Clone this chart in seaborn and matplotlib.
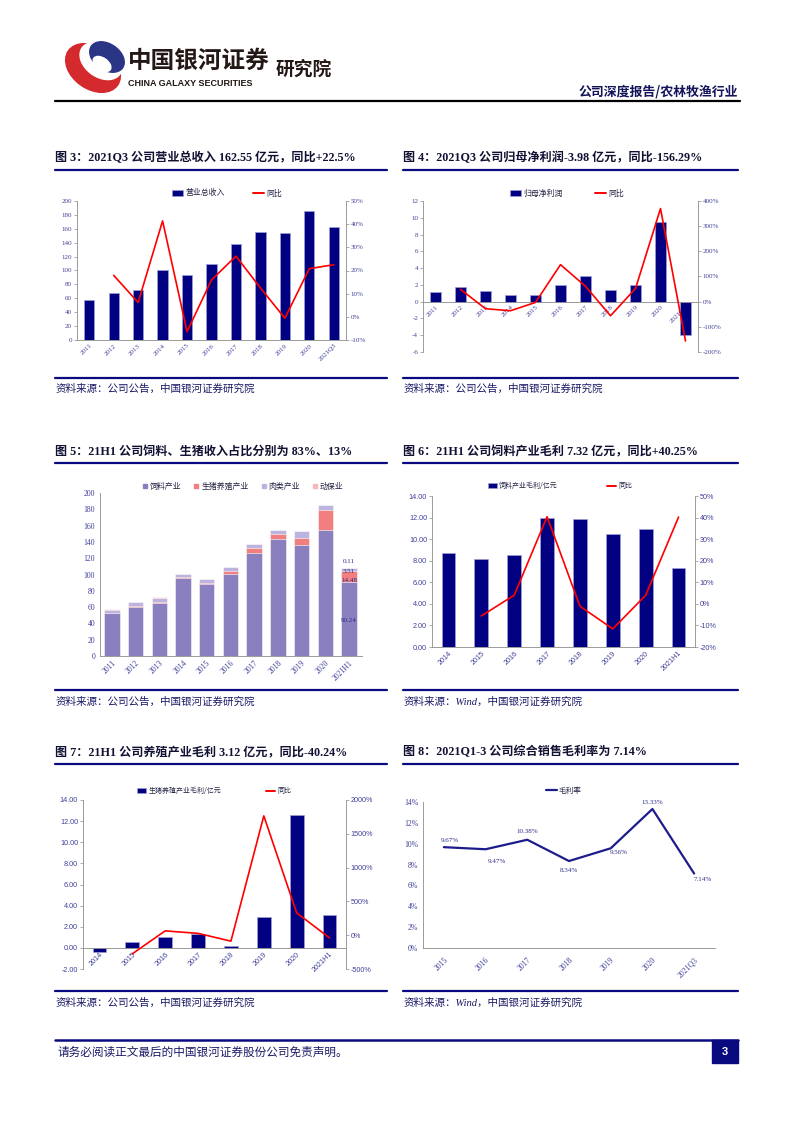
import numpy as np
import pandas as pd
import seaborn as sns
import matplotlib.pyplot as plt
import matplotlib.patches as mpatches
from matplotlib.lines import Line2D
from matplotlib.ticker import FuncFormatter

sns.set_style('white')
plt.rcParams['font.family'] = ['Liberation Serif', 'Noto Sans CJK SC']
plt.rcParams['axes.unicode_minus'] = False

W, H = 793, 1122
NAVY = '#000080'
RED = '#ff0000'
TICKC = '#40409a'
SPINE = '#8c8c8c'
SERIF = ['Liberation Serif', 'Noto Sans CJK SC']
SANS = ['Liberation Sans', 'Noto Sans CJK SC']
CJK = ['Noto Sans CJK SC', 'DejaVu Sans']

# fig 3: revenue (亿元) and yoy (%)
years3 = ['2011', '2012', '2013', '2014', '2015', '2016', '2017', '2018', '2019', '2020', '2021Q3']
revenue = [57.3, 67.3, 71.6, 100.7, 94.0, 108.8, 137.5, 154.7, 153.7, 185.2, 162.55]
revenue_yoy = [np.nan, 17.9, 6.2, 41.4, -6.4, 15.9, 26.2, 12.5, -0.6, 20.8, 22.5]

# fig 4: net profit attributable
profit = [1.19, 1.79, 1.27, 0.83, 0.83, 2.03, 3.10, 1.35, 2.03, 9.54, -3.98]
profit_yoy = [np.nan, 49, -28, -36, -3, 147, 61, -56, 52, 370, -156.29]

# fig 5: revenue split
years5 = ['2011', '2012', '2013', '2014', '2015', '2016', '2017', '2018', '2019', '2020', '2021H1']
feed = [52.3, 60.1, 65.0, 95.7, 88.8, 100.6, 126.0, 143.1, 135.8, 154.2, 90.24]
pig = [0.6, 0.8, 1.3, 0.8, 1.2, 3.3, 6.0, 6.2, 8.6, 24.5, 14.48]
meat = [4.1, 5.5, 5.4, 3.8, 4.6, 5.0, 5.4, 5.0, 9.1, 6.5, 3.51]
health = [0.3, 0.3, 0.3, 0.3, 0.3, 0.3, 0.4, 0.3, 0.3, 0.5, 0.11]

# fig 6 / fig 7: gross profit
years6 = ['2014', '2015', '2016', '2017', '2018', '2019', '2020', '2021H1']
feed_gp = [8.7, 8.2, 8.5, 12.0, 11.85, 10.5, 10.9, 7.32]
feed_gp_yoy = [np.nan, -5.6, 4.0, 40.4, -1.1, -11.6, 4.0, 40.25]
pig_gp = [-0.35, 0.6, 1.0, 1.32, 0.17, 2.93, 12.55, 3.12]
pig_gp_yoy = [np.nan, -275, 64, 27, -88, 1765, 330, -40.24]

# fig 8: gross margin
years8 = ['2015', '2016', '2017', '2018', '2019', '2020', '2021Q3']
margin = [9.67, 9.47, 10.38, 8.34, 9.56, 13.33, 7.14]

fig = plt.figure(figsize=(W / 100, H / 100), dpi=100)
bg = fig.add_axes([0, 0, 1, 1])
bg.set_xlim(0, W)
bg.set_ylim(H, 0)
bg.axis('off')


def add_ax(l, t, r, b):
    ax = fig.add_axes([l / W, 1 - b / H, (r - l) / W, (b - t) / H])
    ax.patch.set_alpha(0)
    return ax


def finish(ax, fam, size):
    ax.tick_params(axis='both', labelsize=size, labelcolor=TICKC, color=SPINE,
                   width=0.5, length=2, pad=1.5)
    ax.tick_params(axis='x', length=0, pad=2)
    for t in ax.get_xticklabels() + ax.get_yticklabels():
        t.set_fontfamily(fam)
    for s in ax.spines.values():
        s.set_color(SPINE)
        s.set_linewidth(0.6)
    ax.set_xlabel('')
    ax.set_ylabel('')


def legend(ax, handles, labels, cx, cy, spacing, size, hl=1.4):
    ax.legend(handles, labels, ncol=len(handles), loc='center',
              bbox_to_anchor=(cx / W, 1 - cy / H), bbox_transform=fig.transFigure,
              frameon=False, prop={'family': CJK, 'size': size}, columnspacing=spacing,
              handlelength=hl, handletextpad=0.3, borderpad=0, labelcolor='#222244')


def bar_line(box, cats, vals, yoy, ylim, ystep, y2lim, y2step, lfmt, fam, size,
             zero_axis=False):
    ax = add_ax(*box)
    df = pd.DataFrame({'cat': cats, 'val': vals})
    sns.barplot(data=df, x='cat', y='val', ax=ax, color=NAVY, saturation=1,
                width=0.42, edgecolor='#a0a0d8', linewidth=0.5)
    ax2 = ax.twinx()
    sns.lineplot(x=np.arange(len(cats)), y=yoy, ax=ax2, color=RED, linewidth=1.2)
    if zero_axis:
        ax.spines['bottom'].set_position(('data', 0))
    ax.set_xlim(-0.5, len(cats) - 0.5)
    ax.set_ylim(*ylim)
    ax.set_yticks(np.arange(ylim[0], ylim[1] + ystep / 2, ystep))
    ax2.set_ylim(*y2lim)
    ax2.set_yticks(np.arange(y2lim[0], y2lim[1] + y2step / 2, y2step))
    ax.yaxis.set_major_formatter(FuncFormatter(lambda v, p: lfmt % v))
    ax2.yaxis.set_major_formatter(FuncFormatter(lambda v, p: f'{v:.0f}%'))
    ax.set_xticks(range(len(cats)))
    ax.set_xticklabels(cats, rotation=45, ha='right', rotation_mode='anchor')
    for a in (ax, ax2):
        finish(a, fam, size)
        a.spines['top'].set_visible(False)
    ax2.spines['bottom'].set_visible(False)
    ax2.spines['left'].set_visible(False)
    ax.spines['right'].set_visible(False)
    return ax, ax2


bar_h = mpatches.Patch(facecolor=NAVY, edgecolor='#a0a0d8', linewidth=0.4)
line_h = Line2D([], [], color=RED, lw=1.4)

# ---- figure 3
ax3, ax3b = bar_line((77, 201, 346, 340), years3, revenue, revenue_yoy, (0, 200), 20,
                     (-10, 50), 10, '%d', SERIF, 5.0)
legend(ax3b, [bar_h, line_h], ['营业总收入', '同比'], 227, 193, 3.6, 5.7)

# ---- figure 4
ax4, ax4b = bar_line((423, 201, 698, 352), years3, profit, profit_yoy, (-6, 12), 2,
                     (-200, 400), 100, '%d', SERIF, 5.0, zero_axis=True)
legend(ax4b, [bar_h, line_h], ['归母净利润', '同比'], 567, 193, 4.0, 5.7)

# ---- figure 5 (stacked via cumulative bars)
ax5 = add_ax(100, 493, 362, 656)
df5 = pd.DataFrame({'year': years5, 'feed': feed, 'pig': pig, 'meat': meat, 'health': health})
cum = df5[['feed', 'pig', 'meat', 'health']].cumsum(axis=1)
C5 = {'feed': '#8a80bf', 'pig': '#f27f7f', 'meat': '#bab4de', 'health': '#f9b8b8'}
for col in ['health', 'meat', 'pig', 'feed']:
    sns.barplot(x=df5['year'], y=cum[col], ax=ax5, color=C5[col], saturation=1,
                width=0.65, edgecolor='white', linewidth=0.4)
ax5.set_xlim(-0.5, len(years5) - 0.45)
ax5.set_ylim(0, 200)
ax5.set_yticks(np.arange(0, 201, 20))
ax5.set_xticks(range(len(years5)))
ax5.set_xticklabels(years5, rotation=45, ha='right', rotation_mode='anchor')
finish(ax5, SERIF, 5.6)
ax5.spines['top'].set_visible(False)
ax5.spines['right'].set_visible(False)
i = len(years5) - 1
lab_kw = dict(ha='center', va='center', fontsize=5.0, color='#2a2a8a', family=SERIF)
ax5.text(i, cum['feed'][i] / 2 - 2, f'{feed[i]:.2f}', **lab_kw)
ax5.text(i, cum['feed'][i] + 3, f'{pig[i]:.2f}', **lab_kw)
ax5.text(i, cum['pig'][i] - 0.5, f'{meat[i]:.2f}', **lab_kw)
ax5.text(i, cum['health'][i] + 7, f'{health[i]:.2f}', **lab_kw)
h5 = [Line2D([], [], ls='', marker='s', ms=3.2, color=C5[c]) for c in ['feed', 'pig', 'meat', 'health']]
legend(ax5, h5, ['饲料产业', '生猪养殖产业', '肉类产业', '动保业'], 243, 486, 1.6, 5.7, hl=0.6)

# ---- figure 6
ax6, ax6b = bar_line((432, 496, 695, 647), years6, feed_gp, feed_gp_yoy, (0, 14), 2,
                     (-20, 50), 10, '%.2f', SANS, 5.2)
legend(ax6b, [bar_h, line_h], ['饲料产业毛利/亿元', '同比'], 560, 486, 7.0, 5.0)

# ---- figure 7
ax7, ax7b = bar_line((83, 800, 346, 969), years6, pig_gp, pig_gp_yoy, (-2, 14), 2,
                     (-500, 2000), 500, '%.2f', SANS, 5.2, zero_axis=True)
legend(ax7b, [bar_h, line_h], ['生猪养殖产业毛利/亿元', '同比'], 214, 791, 6.4, 5.0)

# ---- figure 8
ax8 = add_ax(423, 802, 715, 948)
sns.lineplot(x=np.arange(len(years8)), y=margin, ax=ax8, color='#1c1c8c', linewidth=1.6)
ax8.set_xlim(-0.5, len(years8) - 0.5)
ax8.set_ylim(0, 14)
ax8.set_yticks(np.arange(0, 15, 2))
ax8.yaxis.set_major_formatter(FuncFormatter(lambda v, p: f'{v:.0f}%'))
ax8.set_xticks(range(len(years8)))
ax8.set_xticklabels(years8, rotation=45, ha='right', rotation_mode='anchor')
ax8.set_xticks(np.arange(-0.5, len(years8)), minor=True)
finish(ax8, SERIF, 5.6)
ax8.tick_params(axis='x', which='minor', length=3, color=SPINE, width=0.5)
ax8.tick_params(axis='x', which='major', pad=6)
ax8.spines['top'].set_visible(False)
ax8.spines['right'].set_visible(False)
offs = [(4, 5), (8, -9), (0, 6), (0, -7), (6, -3), (0, 5), (6, -4)]
for k, (v, o) in enumerate(zip(margin, offs)):
    ax8.annotate(f'{v:.2f}%', (k, v), xytext=o, textcoords='offset points',
                 ha='center', va='center', fontsize=5.0, color='#2a2a8a', family=SERIF)
legend(ax8, [Line2D([], [], color='#1c1c8c', lw=1.6)], ['毛利率'], 564, 791, 1, 5.5)

# ---- page furniture
bg.add_patch(mpatches.Ellipse((93, 68), 60, 42, angle=35, color='#d42a2e'))
bg.add_patch(mpatches.Ellipse((101, 61), 46, 32, angle=35, color='white'))
bg.add_patch(mpatches.Ellipse((107, 57), 38, 26, angle=35, color='#2b3585'))
bg.add_patch(mpatches.Ellipse((102, 64), 20, 12, angle=35, color='white'))
bg.text(128, 61, '中国银河证券', fontsize=17, fontweight='bold', color='#231815',
        va='center', ha='left', family=CJK)
bg.text(128, 83, 'CHINA GALAXY SECURITIES', fontsize=6.5, fontweight='bold',
        color='#231815', va='center', ha='left', family=['Liberation Sans'])
bg.text(276, 69, '研究院', fontsize=13.5, fontweight='bold', color='#231815',
        va='center', ha='left', family=CJK)
bg.text(738, 91, '公司深度报告/农林牧渔行业', fontsize=9.3, fontweight='bold',
        color='#14145a', va='center', ha='right', family=CJK)
bg.plot([55, 740], [101, 101], color='black', lw=1.6)

titles = [
    (55, 158, '图 3：2021Q3 公司营业总收入 162.55 亿元，同比+22.5%'),
    (403, 158, '图 4：2021Q3 公司归母净利润-3.98 亿元，同比-156.29%'),
    (55, 452, '图 5：21H1 公司饲料、生猪收入占比分别为 83%、13%'),
    (403, 452, '图 6：21H1 公司饲料产业毛利 7.32 亿元，同比+40.25%'),
    (55, 752, '图 7：21H1 公司养殖产业毛利 3.12 亿元，同比-40.24%'),
    (403, 752, '图 8：2021Q1-3 公司综合销售毛利率为 7.14%'),
]
for x, y, t in titles:
    bg.text(x, y, t, fontsize=8.7, fontweight='bold', color='#111133',
            va='center', ha='left', family=SERIF)

src_a = '资料来源：公司公告，中国银河证券研究院'
src_b = '资料来源：Wind，中国银河证券研究院'
for (ty, sy, ry), (sl, sr) in zip([(170, 378, 389), (463, 690, 702), (764, 991, 1003)],
                                  [(src_a, src_a), (src_a, src_b), (src_a, src_b)]):
    for (x0, x1), s in zip([(55, 387), (403, 738)], (sl, sr)):
        bg.plot([x0, x1], [ty, ty], color='#0a0a80', lw=1.6)
        bg.plot([x0, x1], [sy, sy], color='#0a0a80', lw=1.6)
        bg.text(x0 + 1, ry, s, fontsize=7.6, color='#1a1a66', va='center', ha='left',
                family=SERIF, style='italic')

bg.plot([55, 738], [1040, 1040], color='#0a0a80', lw=1.8)
bg.add_patch(mpatches.Rectangle((712, 1040), 26, 23, color='#0a0a80'))
bg.text(725, 1052, '3', fontsize=8, fontweight='bold', color='white', ha='center',
        va='center', family=['Liberation Sans'])
bg.text(58, 1052, '请务必阅读正文最后的中国银河证券股份公司免责声明。', fontsize=8.4,
        color='#1a1a66', va='center', ha='left', family=CJK)

fig.savefig('out.png', dpi=100)
